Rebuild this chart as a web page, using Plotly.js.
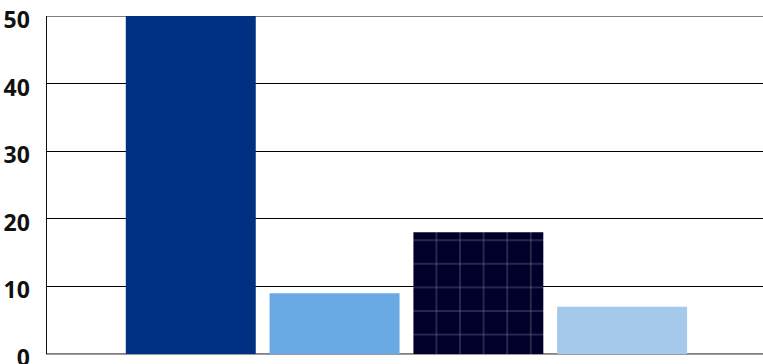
<!DOCTYPE html>
<html>
<head>
<meta charset="utf-8">
<script src="https://cdn.plot.ly/plotly-3.0.1.min.js"></script>
<style>html,body{margin:0;padding:0;background:#fff;}#chart{width:763px;height:364px;}</style>
</head>
<body>
<div id="chart"></div>
<script>
var categories = ['A', 'B', 'C', 'D'];
var values = [50, 9, 18, 7];
var barColors = ['#003082', '#6aaae4', '#00002a', '#a5c9ea'];
var patternShapes = ['', '', '+', ''];
var yTickVals = [0, 10, 20, 30, 40, 50];
var yTickText = ['0', '10', '20', '30', '40', '50'];

var trace = {
  type: 'bar',
  x: categories,
  y: values,
  marker: {
    color: barColors,
    line: {width: 0},
    pattern: {shape: patternShapes, fgcolor: '#5c5680', size: 23.6, solidity: 0.05, fillmode: 'overlay'}
  },
  hoverinfo: 'none'
};

// end gridlines (Plotly hides gridlines lying on the plot edge)
var yMin = yTickVals[0], yMax = yTickVals[yTickVals.length - 1];
var edgeLines = [yMin, yMax].map(function (v) {
  return {type: 'line', xref: 'paper', yref: 'y', x0: 0, x1: 1, y0: v, y1: v,
          line: {color: '#000000', width: 1}, layer: 'below'};
});

var layout = {
  width: 763, height: 364,
  margin: {l: 47, r: 0, t: 16, b: 10, pad: 0},
  paper_bgcolor: '#ffffff',
  plot_bgcolor: '#ffffff',
  showlegend: false,
  bargap: 0.096,
  shapes: edgeLines,
  xaxis: {
    type: 'category',
    range: [-1, 3.98],
    showticklabels: false,
    ticks: '',
    showgrid: false,
    zeroline: false,
    showline: true,
    linecolor: '#9a9a9a',
    linewidth: 1
  },
  yaxis: {
    range: [yMin, yMax],
    tickvals: yTickVals,
    ticktext: yTickText,
    ticks: '',
    showgrid: true,
    gridcolor: '#000000',
    gridwidth: 1,
    zeroline: false,
    showline: true,
    linecolor: '#111111',
    linewidth: 1.5,
    ticklabelstandoff: 11,
    ticklabelshift: 4,
    ticklabeloverflow: 'allow',
    tickfont: {family: 'Open Sans', size: 23, color: '#111111', weight: 'bold'}
  }
};

Plotly.newPlot('chart', [trace], layout, {staticPlot: true, displayModeBar: false});
</script>
</body>
</html>
